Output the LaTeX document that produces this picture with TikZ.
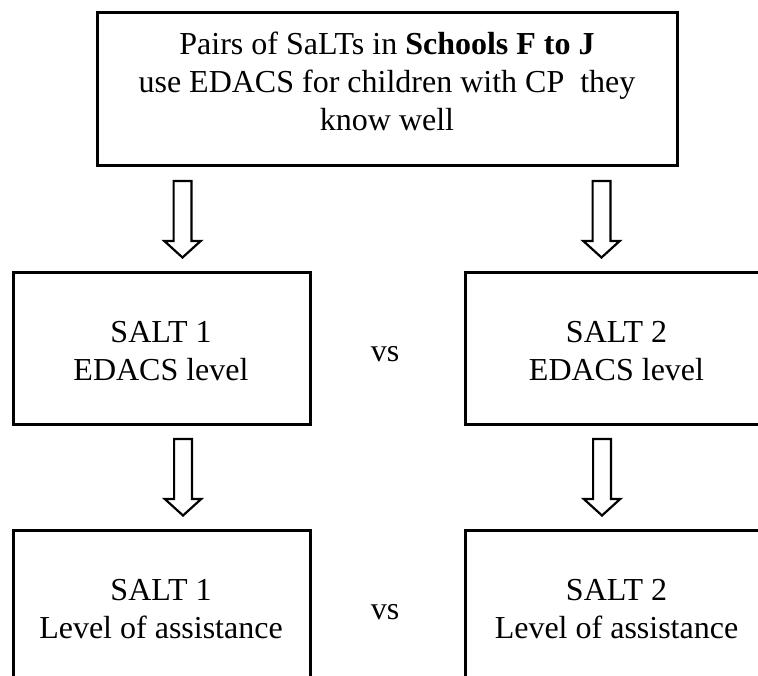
\documentclass[tikz,border=0pt]{standalone}
\usepackage{fontspec}
\setmainfont{Liberation Serif}
\usetikzlibrary{calc}
\begin{document}
\begin{tikzpicture}[x=1pt,y=-1pt,
  box/.style={draw=black,line width=3pt},
  label/.style={anchor=base,inner sep=0pt,font=\fontsize{32}{38}\selectfont},
  hollow/.style={draw=black,fill=white,line width=2.2pt,line join=miter}]
\useasboundingbox (0,0) rectangle (758,676);
\clip (0,0) rectangle (758,676);

% outline boxes (the lower and right ones run past the page edge)
\draw[box] (97,13) rectangle (677,166);
\draw[box] (13,273) rectangle (310,424);
\draw[box] (465,273) rectangle (790,424);
\draw[box] (13,530) rectangle (310,720);
\draw[box] (465,530) rectangle (790,720);

% texts
\node[label] (t1) at (387,55) {Pairs of SaLTs in \textbf{Schools F to J}};
\node[label] (t2) at (387,93) {use EDACS for children with CP\ \ they};
\node[label] (t3) at (387,131) {know well};

\node[label] (m1a) at (161,343) {SALT 1};
\node[label] (m1b) at (161,381) {EDACS level};
\node[label] (m2a) at (616.5,343) {SALT 2};
\node[label] (m2b) at (616.5,381) {EDACS level};
\node[label] (vs1) at (385,362) {vs};

\node[label] (b1a) at (161,600) {SALT 1};
\node[label] (b1b) at (161,638) {Level of assistance};
\node[label] (b2a) at (616.5,600) {SALT 2};
\node[label] (b2b) at (616.5,638) {Level of assistance};
\node[label] (vs2) at (385,619) {vs};

% hollow block arrows between the rows
\newcommand\blockarrow[2]{%
  \draw[hollow] ($(#1)+(-8.9,0)$) -- ($(#1)+(8.9,0)$) -- ($(#2)+(8.9,-16.5)$)
    -- ($(#2)+(18.2,-16.5)$) -- (#2) -- ($(#2)+(-18.2,-16.5)$)
    -- ($(#2)+(-8.9,-16.5)$) -- cycle;}
\coordinate (a1s) at (182.5,181);  \coordinate (a1e) at (182.5,257.5);
\coordinate (a2s) at (601.5,181);  \coordinate (a2e) at (601.5,257.5);
\coordinate (a3s) at (183,439);    \coordinate (a3e) at (183,515.5);
\coordinate (a4s) at (602,439);    \coordinate (a4e) at (602,515.5);
\blockarrow{a1s}{a1e}
\blockarrow{a2s}{a2e}
\blockarrow{a3s}{a3e}
\blockarrow{a4s}{a4e}
\end{tikzpicture}
\end{document}
